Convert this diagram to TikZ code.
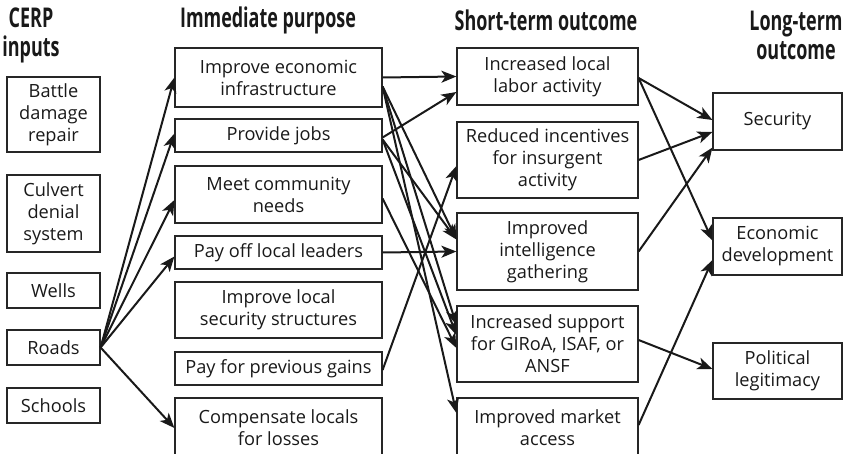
\documentclass[tikz,border=0pt]{standalone}
\usepackage{fontspec}
\setmainfont{Open Sans}
\newfontfamily\headfont[FakeStretch=0.66]{Open Sans}
\usepackage{tikz}
\usetikzlibrary{arrows.meta}

\tikzset{
  box/.style={draw=black!85, line width=0.6pt, align=center, inner sep=0pt,
    text=black!90, font=\fontsize{9.1}{11}\selectfont},
  inputbox/.style={box, minimum width=46.5pt},
  purposebox/.style={box, minimum width=103.5pt},
  shortbox/.style={box, minimum width=90.5pt},
  longbox/.style={box, minimum width=64.5pt},
  head/.style={align=center, text=black!90, font=\headfont\bfseries\fontsize{13.6}{14.5}\selectfont},
  link/.style={-{Stealth[length=7.5pt,width=6pt,inset=2pt]}, line width=1pt, draw=black!90},
}

\begin{document}
\begin{tikzpicture}[x=0.5pt,y=-0.5pt]
\useasboundingbox (0,0) rectangle (843,454);

% headings
\node[head] (h1) at (31,35) {CERP\\inputs};
\node[head] (h2) at (268,20) {Immediate purpose};
\node[head] (h3) at (546,20) {Short-term outcome};
\node[head] (h4) at (796,35) {Long-term\\outcome};

% CERP inputs
\node[inputbox, minimum height=37.5pt] (battle) at (53.5,114.5) {Battle\\damage\\repair};
\node[inputbox, minimum height=38.5pt] (culvert) at (53.5,213.5) {Culvert\\denial\\system};
\node[inputbox, minimum height=17.5pt] (wells) at (53.5,290.5) {Wells};
\node[inputbox, minimum height=17.5pt] (roads) at (53.5,347.5) {Roads};
\node[inputbox, minimum height=17.5pt] (schools) at (53.5,405.5) {Schools};

% immediate purpose
\node[purposebox, minimum height=29.5pt] (econ) at (278.5,77.5) {Improve economic\\infrastructure};
\node[purposebox, minimum height=16.5pt] (jobs) at (278.5,135.5) {Provide jobs};
\node[purposebox, minimum height=28.5pt] (needs) at (278.5,194.5) {Meet community\\needs};
\node[purposebox, minimum height=16.5pt] (leaders) at (278.5,252.5) {Pay off local leaders};
\node[purposebox, minimum height=28pt] (secstruct) at (278.5,310) {Improve local\\security structures};
\node[purposebox, minimum height=16.5pt] (gains) at (278.5,368.5) {Pay for previous gains};
\node[purposebox, minimum height=30pt] (losses) at (278.5,428) {Compensate locals\\for losses};

% short-term outcome
\node[shortbox, minimum height=28.5pt] (labor) at (547.5,76.5) {Increased local\\labor activity};
\node[shortbox, minimum height=38pt] (incent) at (547.5,160) {Reduced incentives\\for insurgent\\activity};
\node[shortbox, minimum height=38.5pt] (intel) at (547.5,251.5) {Improved\\intelligence\\gathering};
\node[shortbox, minimum height=38pt] (support) at (547.5,344) {Increased support\\for GIRoA, ISAF, or\\ANSF};
\node[shortbox, minimum height=30pt] (market) at (547.5,428) {Improved market\\access};

% long-term outcome
\node[longbox, minimum height=28.5pt] (security) at (777.5,121.5) {Security};
\node[longbox, minimum height=28.5pt] (econdev) at (777.5,246.5) {Economic\\development};
\node[longbox, minimum height=28pt] (polit) at (777.5,371) {Political\\legitimacy};

% inputs -> purpose
\draw[link] (roads.east) -- (econ.west);
\draw[link] (roads.east) -- ([yshift=1pt]jobs.west);
\draw[link] (roads.east) -- ([yshift=-2.75pt]needs.west);
\draw[link] (roads.east) -- ([yshift=-2pt]leaders.west);
\draw[link] (roads.east) -- (losses.west);

% purpose -> short-term
\draw[link] (econ.east) -- (labor.west);
\draw[link] ([yshift=-4.5pt]econ.east) -- ([yshift=6pt]intel.west);
\draw[link] ([yshift=-4.5pt]econ.east) -- ([yshift=9.5pt]support.west);
\draw[link] ([yshift=-4.5pt]econ.east) -- ([yshift=7.5pt]market.west);
\draw[link] ([yshift=-1pt]jobs.east) -- ([yshift=-7.75pt]labor.west);
\draw[link] ([yshift=-2pt]jobs.east) -- ([yshift=6pt]intel.west);
\draw[link] ([yshift=-2pt]jobs.east) -- ([yshift=4.5pt]support.west);
\draw[link] ([yshift=-2pt]needs.east) -- ([yshift=-2pt]support.west);
\draw[link] (leaders.east) -- (intel.west);
\draw[link] ([yshift=-0.75pt]gains.east) -- ([yshift=-3pt]incent.west);

% short-term -> long-term
\draw[link] ([yshift=-0.75pt]labor.east) -- ([yshift=0.75pt]security.west);
\draw[link] ([yshift=-0.75pt]labor.east) -- ([yshift=3pt]econdev.west);
\draw[link] (incent.east) -- ([yshift=-5.25pt]security.west);
\draw[link] (intel.east) -- ([yshift=1.5pt]security.south west);
\draw[link] ([yshift=2pt]support.east) -- ([yshift=1pt]polit.west);
\draw[link] ([yshift=1.5pt]market.east) -- ([yshift=-6.75pt]econdev.west);
\end{tikzpicture}
\end{document}
